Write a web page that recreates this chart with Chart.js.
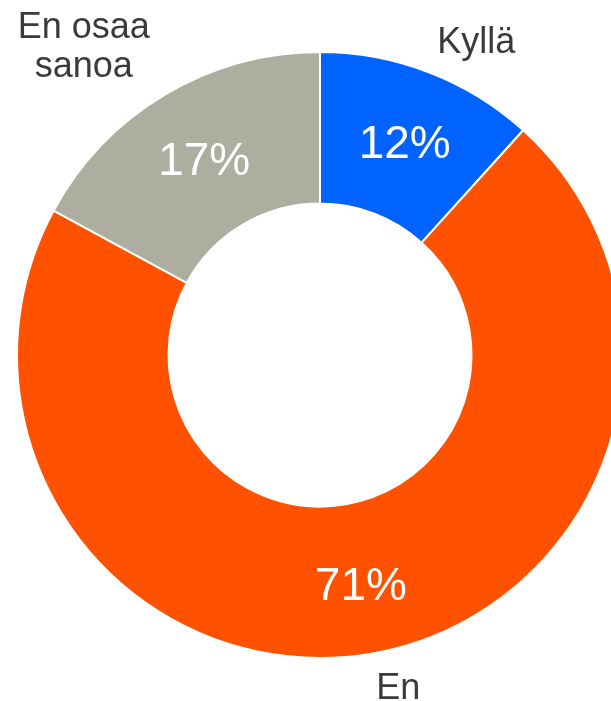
<!DOCTYPE html>
<html>
<head>
<meta charset="utf-8">
<script src="https://cdn.jsdelivr.net/npm/chart.js@4/dist/chart.umd.min.js"></script>
<style>
  html, body { margin: 0; padding: 0; overflow: hidden; background: #fff; }
  #wrap { width: 611px; height: 701px; overflow: hidden; }
</style>
</head>
<body>
<div id="wrap"><canvas id="myChart" width="640" height="701"></canvas></div>
<script>
// Data
const categories = ["Kyllä", "En", ["En osaa", "sanoa"]];
const shares = [11.7, 71.2, 17.1];
const shareLabels = ["12%", "71%", "17%"];
const colors = ["#0062FF", "#FF5100", "#ADAE9F"];

// Labels drawn on and around the slices
const sliceLabels = {
  id: "sliceLabels",
  afterDatasetsDraw(chart) {
    const ctx = chart.ctx;
    const meta = chart.getDatasetMeta(0);
    meta.data.forEach((arc, i) => {
      const p = arc.getProps(["x", "y", "startAngle", "endAngle", "innerRadius", "outerRadius"], true);
      const mid = (p.startAngle + p.endAngle) / 2;
      const rIn = (p.innerRadius + p.outerRadius) / 2 + 3;
      ctx.save();
      // percent inside
      ctx.fillStyle = "#ffffff";
      ctx.font = "46px 'Liberation Sans', Arial, sans-serif";
      ctx.textAlign = "center";
      ctx.textBaseline = "middle";
      ctx.fillText(shareLabels[i], p.x + Math.cos(mid) * rIn + 2, p.y + Math.sin(mid) * rIn + 5);

      // category outside
      const rOut = p.outerRadius + 18;
      const ax = p.x + Math.cos(mid) * rOut;
      const ay = p.y + Math.sin(mid) * rOut;
      const lines = [].concat(categories[i]);
      const lh = 39;
      ctx.fillStyle = "#3A3A3A";
      ctx.font = "36px 'Liberation Sans', Arial, sans-serif";
      const w = Math.max(...lines.map(t => ctx.measureText(t).width));
      const right = ax >= p.x;
      const cx = right ? ax + w / 2 + 2 : ax - w / 2 - 6;
      ctx.textAlign = "center";
      if (ay < p.y) {
        ctx.textBaseline = "alphabetic";
        lines.forEach((t, k) => ctx.fillText(t, cx, ay - 2 - (lines.length - 1 - k) * lh));
      } else {
        ctx.textBaseline = "top";
        lines.forEach((t, k) => ctx.fillText(t, cx, ay + k * lh));
      }
      ctx.restore();
    });
  }
};

const data = {
  labels: categories,
  datasets: [
    {
      data: shares,
      backgroundColor: colors,
      borderColor: "#ffffff",
      borderWidth: 2,
    },
  ],
};

const config = {
  type: "doughnut",
  data: data,
  options: {
    responsive: false,
    animation: false,
    cutout: "50%",
    layout: { padding: { top: 51, bottom: 42, left: 16, right: 16 } },
    plugins: {
      legend: { display: false },
      tooltip: { enabled: false },
    },
  },
  plugins: [sliceLabels],
};

let myChart = new Chart(document.getElementById("myChart").getContext("2d"), config);
</script>
</body>
</html>
